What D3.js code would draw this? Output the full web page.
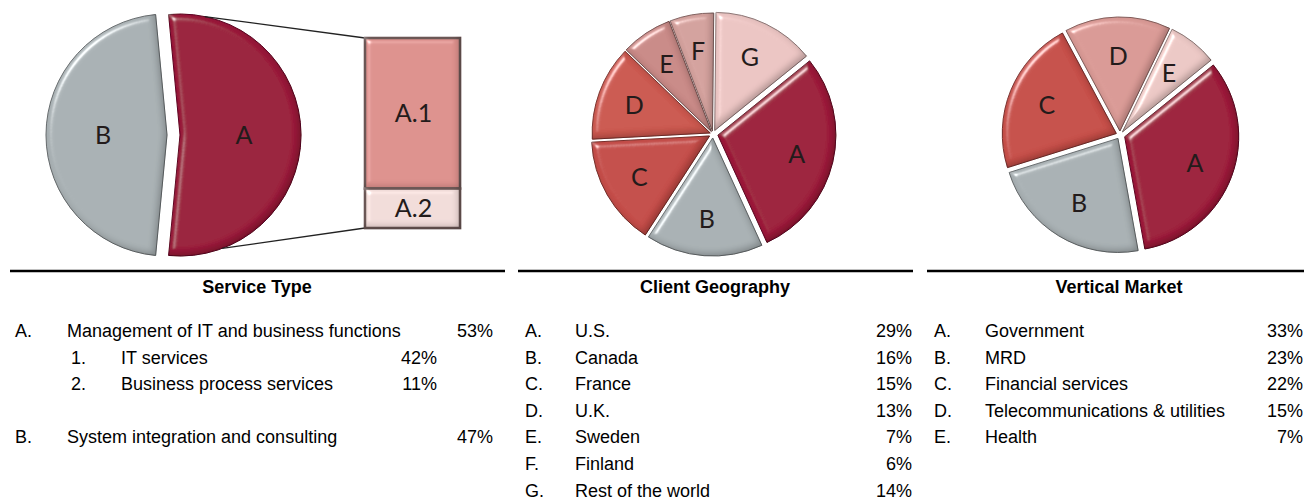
<!DOCTYPE html>
<html>
<head>
<meta charset="utf-8">
<script src="https://cdn.jsdelivr.net/npm/d3@7"></script>
<style>
  body { margin: 0; background: #fff; }
  svg { display: block; }
</style>
</head>
<body>
<div id="wrapper"></div>
<script>
// service type
const serviceLetters = ["A", "B"]
const serviceNames = ["Management of IT and business functions", "System integration and consulting"]
const serviceValues = [53, 47]
const subLetters = ["A.1", "A.2"]
const subNames = ["IT services", "Business process services"]
const subValues = [42, 11]

// client geography
const geoLetters = ["A", "B", "C", "D", "E", "F", "G"]
const geoNames = ["U.S.", "Canada", "France", "U.K.", "Sweden", "Finland", "Rest of the world"]
const geoValues = [29, 16, 15, 13, 7, 6, 14]

// vertical market
const marketLetters = ["A", "B", "C", "D", "E"]
const marketNames = ["Government", "MRD", "Financial services", "Telecommunications & utilities", "Health"]
const marketValues = [33, 23, 22, 15, 7]

const titles = ["Service Type", "Client Geography", "Vertical Market"]

function drawCharts() {
    let dimensions = {
        width: 1304,
        height: 500,
        ruleY: 271,
        titleY: 293,
        rowStart: 337,
        rowStep: 26.6,
    }

    const wrapper = d3.select("#wrapper")
        .append("svg")
            .attr("width", dimensions.width)
            .attr("height", dimensions.height)

    // bevel look: highlight on the top-left rim, shade on the bottom-right rim
    const defs = wrapper.append("defs")
    const bevel = defs.append("filter")
        .attr("id", "bevel")
        .attr("x", "-10%").attr("y", "-10%")
        .attr("width", "120%").attr("height", "120%")
    bevel.append("feGaussianBlur")
        .attr("in", "SourceAlpha")
        .attr("stdDeviation", 3)
        .attr("result", "blur")
    const spec = bevel.append("feSpecularLighting")
        .attr("in", "blur")
        .attr("surfaceScale", 6)
        .attr("specularConstant", 0.9)
        .attr("specularExponent", 30)
        .attr("lighting-color", "#ffffff")
        .attr("result", "spec")
    spec.append("feDistantLight")
        .attr("azimuth", 225)
        .attr("elevation", 30)
    bevel.append("feComposite")
        .attr("in", "spec").attr("in2", "SourceAlpha")
        .attr("operator", "in").attr("result", "specIn")
    bevel.append("feOffset")
        .attr("in", "blur").attr("dx", -3).attr("dy", -3)
        .attr("result", "shifted")
    bevel.append("feComposite")
        .attr("in", "SourceAlpha").attr("in2", "shifted")
        .attr("operator", "out").attr("result", "rim")
    bevel.append("feFlood")
        .attr("flood-color", "#000").attr("flood-opacity", 0.45)
        .attr("result", "dark")
    bevel.append("feComposite")
        .attr("in", "dark").attr("in2", "rim")
        .attr("operator", "in").attr("result", "shade")
    bevel.append("feMerge")
        .attr("result", "shaded")
        .call(m => {
            m.append("feMergeNode").attr("in", "SourceGraphic")
            m.append("feMergeNode").attr("in", "shade")
        })
    bevel.append("feComposite")
        .attr("in", "shaded").attr("in2", "specIn")
        .attr("operator", "arithmetic")
        .attr("k1", 0).attr("k2", 1).attr("k3", 0.7).attr("k4", 0)

    const labelFont = "Lato, 'Open Sans', sans-serif"
    const textFont = "'Liberation Sans', Arial, sans-serif"

    // draws one pie, pushing each slice out along its middle angle
    function drawPie(values, letters, opts) {
        const total = d3.sum(values)
        const pie = d3.pie()
            .sort(null)
            .value(d => d)
            .startAngle(opts.start)
            .endAngle(opts.start + 2 * Math.PI)
        const arcs = pie(values)

        const arc = d3.arc()
            .innerRadius(0)
            .outerRadius(opts.radius)
        const labelArc = d3.arc()
            .innerRadius(opts.labelRadius)
            .outerRadius(opts.labelRadius)

        const g = wrapper.append("g")
            .attr("transform", `translate(${opts.cx}, ${opts.cy})`)

        const slices = g.selectAll("g.slice")
            .data(arcs)
            .enter()
            .append("g")
                .attr("class", "slice")
                .attr("transform", (d, i) => {
                    const mid = (d.startAngle + d.endAngle) / 2
                    const off = opts.offsets[i]
                    return `translate(${Math.sin(mid) * off}, ${-Math.cos(mid) * off})`
                })

        slices.append("path")
            .attr("d", arc)
            .attr("fill", (d, i) => opts.colors[i])
            .attr("stroke", (d, i) => d3.color(opts.colors[i]).darker(1.3))
            .attr("stroke-width", 1)
            .attr("filter", "url(#bevel)")

        slices.append("text")
            .attr("transform", d => `translate(${labelArc.centroid(d)})`)
            .attr("text-anchor", "middle")
            .attr("dy", "0.36em")
            .style("font-family", labelFont)
            .style("font-size", "25px")
            .attr("fill", "#231b1b")
            .text((d, i) => letters[i])

        return {arcs: arcs, g: g, total: total}
    }

    // --- service type pie with the bar of A ---
    const serviceStart = Math.PI / 2 - Math.PI * serviceValues[0] / d3.sum(serviceValues)
    const servicePie = drawPie(serviceValues, serviceLetters, {
        cx: 172, cy: 135, radius: 121, labelRadius: 64,
        start: serviceStart,
        offsets: [8, 5],
        colors: ["#9a1b3b", "#a9b1b4"],
    })

    const barX = 365
    const barWidth = 95
    const barY = d3.scaleLinear()
        .domain([0, d3.sum(subValues)])
        .range([38, 228])
    const subStacks = d3.cumsum([0].concat(subValues))
    const subColors = ["#dd918d", "#f1dcd9"]

    // connector lines from A to the bar
    const aArc = servicePie.arcs[0]
    const aMid = (aArc.startAngle + aArc.endAngle) / 2
    const ax = 172 + Math.sin(aMid) * 8
    const ay = 135 - Math.cos(aMid) * 8
    const topAngle = aArc.startAngle + 0.3
    const botAngle = aArc.endAngle - 0.45
    wrapper.append("line")
        .attr("x1", ax + Math.sin(topAngle) * 121)
        .attr("y1", ay - Math.cos(topAngle) * 121)
        .attr("x2", barX)
        .attr("y2", barY(0))
        .attr("stroke", "#222")
        .attr("stroke-width", 1.3)
    wrapper.append("line")
        .attr("x1", ax + Math.sin(botAngle) * 121)
        .attr("y1", ay - Math.cos(botAngle) * 121)
        .attr("x2", barX)
        .attr("y2", barY(d3.sum(subValues)))
        .attr("stroke", "#222")
        .attr("stroke-width", 1.3)

    const bars = wrapper.selectAll("g.bar")
        .data(subValues)
        .enter()
        .append("g")
            .attr("class", "bar")

    bars.append("rect")
        .attr("x", barX)
        .attr("width", barWidth)
        .attr("y", (d, i) => barY(subStacks[i]))
        .attr("height", d => barY(d) - barY(0))
        .attr("fill", (d, i) => subColors[i])
        .attr("stroke", "#6e5a59")
        .attr("stroke-width", 2.5)
        .attr("filter", "url(#bevel)")

    bars.append("text")
        .attr("x", barX + barWidth / 2 + 1)
        .attr("y", (d, i) => barY(subStacks[i] + d / 2))
        .attr("dy", "0.36em")
        .attr("text-anchor", "middle")
        .style("font-family", labelFont)
        .style("font-size", "25px")
        .attr("fill", "#231b1b")
        .text((d, i) => subLetters[i])

    // --- client geography pie ---
    drawPie(geoValues, geoLetters, {
        cx: 713, cy: 134, radius: 118, labelRadius: 81,
        start: 51 * Math.PI / 180,
        offsets: [5, 4, 4, 3, 3, 3, 4],
        colors: ["#9c1c3b", "#a9b1b4", "#c44e48", "#cb5850", "#c98a87", "#d3a19d", "#ebc5c3"],
    })

    // --- vertical market pie ---
    drawPie(marketValues, marketLetters, {
        cx: 1120, cy: 135, radius: 114, labelRadius: 75,
        start: 51 * Math.PI / 180,
        offsets: [5, 4, 4, 4, 4],
        colors: ["#9c1c3b", "#a9b1b4", "#c6504a", "#d99a95", "#ebc8c5"],
    })

    // --- rules and titles ---
    const rules = [[10, 505], [518, 913], [927, 1304]]
    const titleX = [257, 715, 1119]
    wrapper.selectAll("line.rule")
        .data(rules)
        .enter()
        .append("line")
            .attr("class", "rule")
            .attr("x1", d => d[0])
            .attr("x2", d => d[1])
            .attr("y1", dimensions.ruleY)
            .attr("y2", dimensions.ruleY)
            .attr("stroke", "#000")
            .attr("stroke-width", 2.6)

    wrapper.selectAll("text.title")
        .data(titles)
        .enter()
        .append("text")
            .attr("class", "title")
            .attr("x", (d, i) => titleX[i])
            .attr("y", dimensions.titleY)
            .attr("text-anchor", "middle")
            .style("font-family", textFont)
            .style("font-size", "18px")
            .style("font-weight", "bold")
            .attr("fill", "#000")
            .text(d => d)

    // --- legend rows ---
    // row: [marker, name, value, row index, marker x, name x, value right x]
    const legendRows = []
    legendRows.push([serviceLetters[0] + ".", serviceNames[0], serviceValues[0], 0, 15, 67, 493])
    subNames.forEach((n, i) => legendRows.push([(i + 1) + ".", n, subValues[i], i + 1, 71, 121, 437]))
    legendRows.push([serviceLetters[1] + ".", serviceNames[1], serviceValues[1], 4, 15, 67, 493])
    geoNames.forEach((n, i) => legendRows.push([geoLetters[i] + ".", n, geoValues[i], i, 525, 575, 912]))
    marketNames.forEach((n, i) => legendRows.push([marketLetters[i] + ".", n, marketValues[i], i, 934, 985, 1303]))

    const rowY = i => dimensions.rowStart + i * dimensions.rowStep

    const rows = wrapper.selectAll("g.row")
        .data(legendRows)
        .enter()
        .append("g")
            .attr("class", "row")
            .style("font-family", textFont)
            .style("font-size", "18px")
            .attr("fill", "#000")

    rows.append("text")
        .attr("x", d => d[4])
        .attr("y", d => rowY(d[3]))
        .text(d => d[0])
    rows.append("text")
        .attr("x", d => d[5])
        .attr("y", d => rowY(d[3]))
        .text(d => d[1])
    rows.append("text")
        .attr("x", d => d[6])
        .attr("y", d => rowY(d[3]))
        .attr("text-anchor", "end")
        .text(d => d[2] + "%")
}

drawCharts()
</script>
</body>
</html>
